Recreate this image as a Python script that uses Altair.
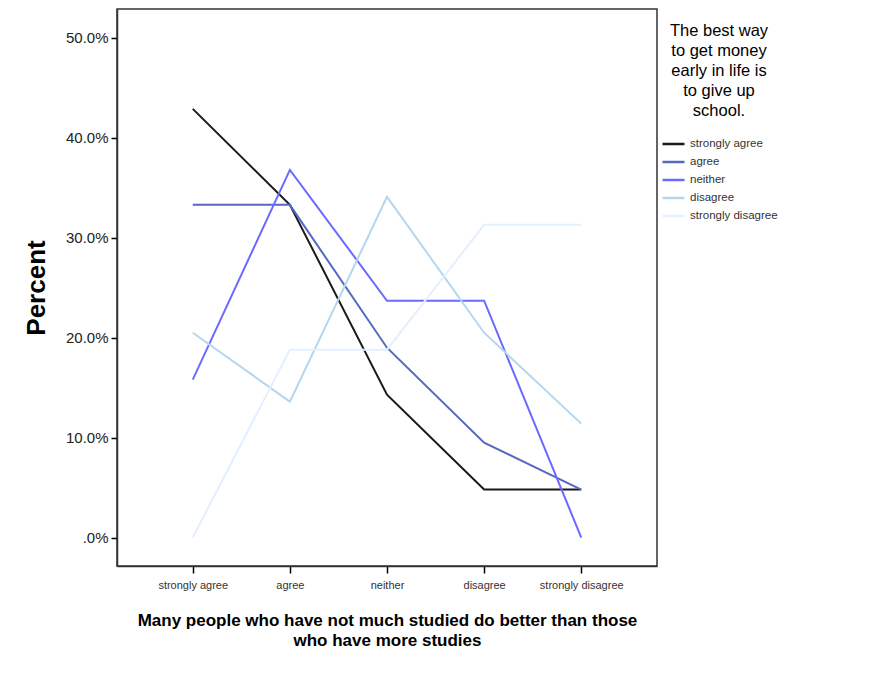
import altair as alt
import pandas as pd

categories = ["strongly agree", "agree", "neither", "disagree", "strongly disagree"]
series = ["strongly agree", "agree", "neither", "disagree", "strongly disagree"]
v_strongly_agree = [42.9, 33.3, 14.3, 4.8, 4.8]
v_agree = [33.3, 33.3, 19.0, 9.5, 4.8]
v_neither = [15.8, 36.8, 23.7, 23.7, 0.0]
v_disagree = [20.5, 13.6, 34.1, 20.5, 11.4]
v_strongly_disagree = [0.0, 18.8, 18.8, 31.3, 31.3]
colors = ["#1a1a1a", "#5668bf", "#6a6aff", "#b4d6ee", "#e4efff"]

rows = []
for s, vals in zip(series, [v_strongly_agree, v_agree, v_neither, v_disagree, v_strongly_disagree]):
    for c, v in zip(categories, vals):
        rows.append({"cat": c, "series": s, "pct": v})
df = pd.DataFrame(rows)

font = "Liberation Sans"

chart = alt.Chart(df).mark_line(strokeWidth=2).encode(
    x=alt.X("cat:N", sort=categories,
            scale=alt.Scale(type="point", padding=0.78),
            axis=alt.Axis(title=["Many people who have not much studied do better than those",
                                 "who have more studies"],
                          titleFont=font, titleFontSize=17, titleFontWeight="bold",
                          titleColor="#000", titlePadding=22, titleLineHeight=20,
                          labelFont=font, labelFontSize=11, labelColor="#333",
                          labelAngle=0, labelPadding=6,
                          tickColor="#000", tickSize=7, tickWidth=1.5,
                          domainColor="#333", domainWidth=1.5, grid=False)),
    y=alt.Y("pct:Q",
            scale=alt.Scale(domain=[-2.85, 52.9], nice=False, zero=False),
            axis=alt.Axis(title="Percent", values=[0, 10, 20, 30, 40, 50],
                          labelExpr="datum.value == 0 ? '.0%' : format(datum.value, '.1f') + '%'",
                          titleFont=font, titleFontSize=26, titleFontWeight="bold",
                          titleColor="#000", titlePadding=16,
                          labelFont=font, labelFontSize=15, labelColor="#222",
                          labelPadding=3,
                          tickColor="#000", tickSize=6, tickWidth=1.5,
                          domainColor="#333", domainWidth=1.5, grid=False)),
    color=alt.Color("series:N", sort=series,
                    scale=alt.Scale(domain=series, range=colors),
                    legend=alt.Legend(title=["The best way", "to get money", "early in life is",
                                             "to give up", "school."],
                                      orient="none", legendX=544, legendY=14,
                                      titleFont=font, titleFontSize=16.5, titleFontWeight="normal",
                                      titleColor="#000", titleAlign="center", titleAnchor="middle",
                                      titleLineHeight=20, titlePadding=12,
                                      labelFont=font, labelFontSize=11.5, labelColor="#333",
                                      symbolType="stroke", symbolSize=484, symbolStrokeWidth=2.5,
                                      rowPadding=-2.3, labelOffset=4)),
).properties(
    width=540, height=557,
    autosize=alt.AutoSizeParams(type="none"),
    padding={"left": 109, "top": 1, "right": 215, "bottom": 100},
).configure_view(stroke="#333", strokeWidth=1.5)

chart.save("out.html", embed_options={"renderer": "svg", "actions": False})
